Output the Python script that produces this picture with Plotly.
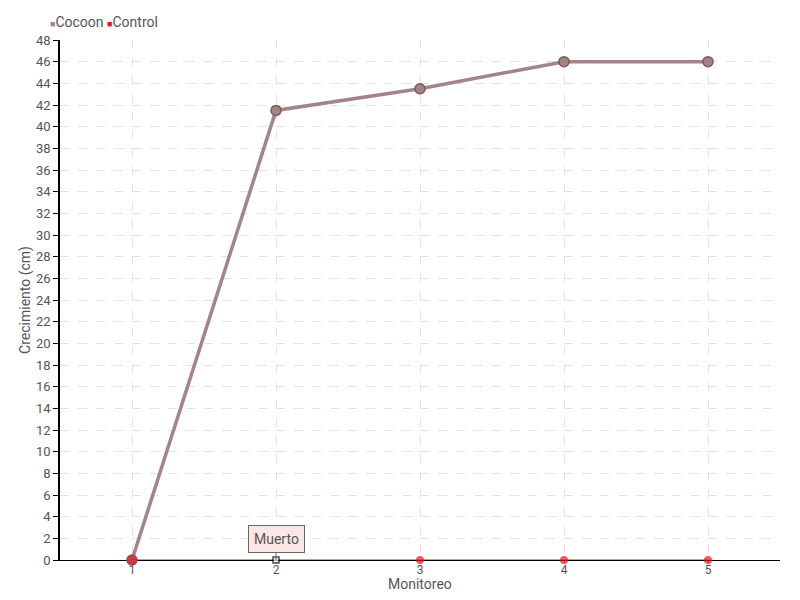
import plotly.graph_objects as go

monitoreo = [1, 2, 3, 4, 5]
cocoon = [0, 41.5, 43.5, 46, 46]
control = [0, 0, 0, 0, 0]
y_ticks = list(range(0, 49, 2))
series_names = ["Cocoon", "Control"]

FONT = "Roboto, sans-serif"
GREY = "#555555"
C_COC = "#a48486"
C_CON = "#ee1122"

fig = go.Figure()
fig.add_trace(go.Scatter(
    x=monitoreo, y=cocoon, name=series_names[0], mode="lines+markers", showlegend=False,
    line=dict(color=C_COC, width=3.5), cliponaxis=False,
    marker=dict(size=10, color=C_COC, line=dict(color="#7a5a5c", width=1.5)),
))
fig.add_trace(go.Scatter(
    x=monitoreo, y=control, name=series_names[1], mode="lines+markers", showlegend=False,
    line=dict(color=C_CON, width=1.2), cliponaxis=False,
    marker=dict(size=[9, 6, 8, 8, 8], color=[C_CON, "white", C_CON, C_CON, C_CON],
                symbol=["circle", "square", "circle", "circle", "circle"],
                line=dict(color=[C_CON, "black", C_CON, C_CON, C_CON], width=[0, 1.5, 0, 0, 0])),
))

# legend drawn as text with square swatches
legend_text = (f"<span style='color:{C_COC};font-size:9px'>■</span>{series_names[0]} "
               f"<span style='color:{C_CON};font-size:9px'>■</span>{series_names[1]}")
fig.add_annotation(x=-0.016, y=1.035, xref="paper", yref="paper", xanchor="left", yanchor="middle",
                   text=legend_text, showarrow=False, font=dict(family=FONT, size=14, color=GREY))

fig.add_annotation(
    x=monitoreo[1], y=control[1], text="Muerto", showarrow=True,
    arrowhead=0, arrowwidth=1, arrowcolor="#666666", ax=0, ay=-21,
    bgcolor="#fde6e6", bordercolor="#666666", borderwidth=1, borderpad=5,
    font=dict(family=FONT, size=14, color=GREY),
)
fig.add_annotation(x=0.5, y=-0.047, xref="paper", yref="paper", xanchor="center", yanchor="middle",
                   text="Monitoreo", showarrow=False, font=dict(family=FONT, size=14, color=GREY))

fig.update_layout(
    width=784, height=584,
    margin=dict(l=52, r=12, t=32, b=32, autoexpand=False),
    paper_bgcolor="white", plot_bgcolor="white",
    font=dict(family=FONT, size=13, color=GREY),
    showlegend=False,
    xaxis=dict(
        range=[0.5, 5.5], tickvals=monitoreo, ticktext=[str(v) for v in monitoreo],
        showgrid=True, gridcolor="#e3e3e3", griddash="dash",
        showline=True, linecolor="black", linewidth=1, layer="below traces",
        ticks="outside", ticklen=2, tickcolor="#888888", automargin=False,
        ticklabelstandoff=-3,
        zeroline=False, tickfont=dict(size=12),
    ),
    yaxis=dict(
        range=[0, 48], tickvals=y_ticks,
        showgrid=True, gridcolor="#e3e3e3", griddash="dash",
        showline=True, linecolor="black", linewidth=1.5, layer="below traces",
        ticks="outside", ticklen=5, tickcolor="black", automargin=False,
        zeroline=False,
        title=dict(text="Crecimiento (cm)", standoff=2, font=dict(family=FONT, size=14, color=GREY)),
    ),
)

fig.write_html("out.html")
